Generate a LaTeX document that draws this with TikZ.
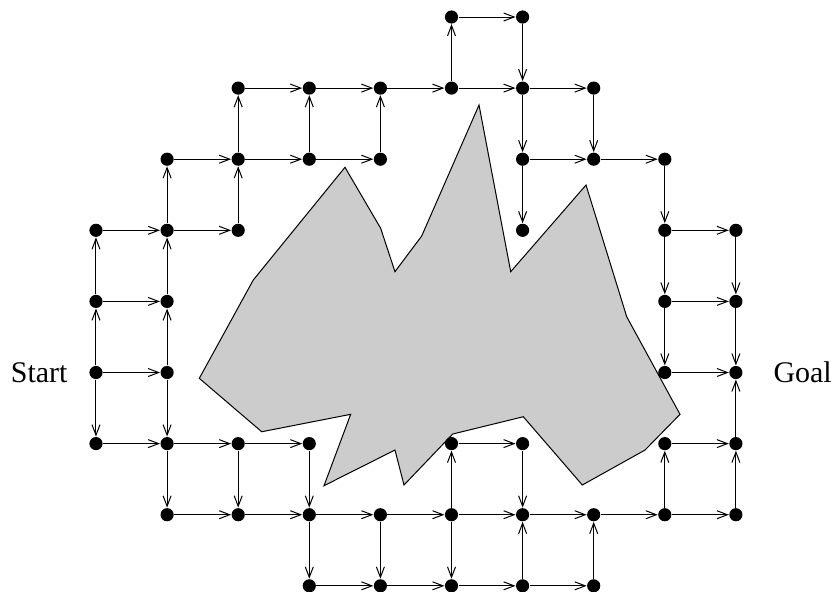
\documentclass[tikz,border=0pt]{standalone}
\usepackage{fontspec}
\setmainfont{Liberation Serif}
\usepackage{tikz}
\usetikzlibrary{arrows.meta, positioning}

\begin{document}
\begin{tikzpicture}[
  dot/.style={circle, fill=black, inner sep=0pt, minimum size=0.185cm},
  arr/.style={-{Straight Barb[length=4.2pt, width=3.2pt]}, line width=0.4pt},
  obstacle/.style={draw=black, fill=black!20, line width=0.4pt},
  lbl/.style={inner sep=0pt, font=\fontsize{12}{14}\selectfont}
]
\useasboundingbox (-1.350,0.239) rectangle (10.422,-8.073);
% obstacle
\draw[obstacle] (1.453,-5.082) -- (2.212,-3.699) -- (3.502,-2.114) -- (4.004,-2.972)
  -- (4.205,-3.582) -- (4.581,-3.080) -- (5.387,-1.238) -- (5.833,-3.582)
  -- (6.892,-2.363) -- (7.464,-4.215) -- (8.214,-5.588) -- (7.722,-6.090)
  -- (6.840,-6.582) -- (6.010,-5.622) -- (5.017,-5.865) -- (4.332,-6.582)
  -- (4.205,-6.090) -- (3.207,-6.592) -- (3.582,-5.588) -- (2.331,-5.833) -- cycle;
% grid points
\foreach \c/\r in {5/0,6/0,
    2/1,3/1,4/1,5/1,6/1,7/1,
    1/2,2/2,3/2,4/2,6/2,7/2,8/2,
    0/3,1/3,2/3,6/3,8/3,9/3,
    0/4,1/4,8/4,9/4,
    0/5,1/5,8/5,9/5,
    0/6,1/6,2/6,3/6,5/6,6/6,8/6,9/6,
    1/7,2/7,3/7,4/7,5/7,6/7,7/7,8/7,9/7,
    3/8,4/8,5/8,6/8,7/8}
  \node[dot] (n\c\r) at (\c,-\r) {};
% horizontal moves
\foreach \a/\b in {n50/n60,
    n21/n31,n31/n41,n41/n51,n51/n61,n61/n71,
    n12/n22,n22/n32,n32/n42,n62/n72,n72/n82,
    n03/n13,n13/n23,n83/n93,
    n04/n14,n84/n94,
    n05/n15,n85/n95,
    n06/n16,n16/n26,n26/n36,n56/n66,n86/n96,
    n17/n27,n27/n37,n37/n47,n47/n57,n57/n67,n67/n77,n77/n87,n87/n97,
    n38/n48,n48/n58,n58/n68,n68/n78}
  \draw[arr] (\a) -- (\b);
% vertical moves
\foreach \a/\b in {n05/n04,n04/n03,n05/n06,
    n15/n14,n14/n13,n13/n12,n15/n16,n16/n17,
    n23/n22,n22/n21,n26/n27,
    n32/n31,n36/n37,n37/n38,
    n42/n41,n47/n48,
    n51/n50,n57/n56,n57/n58,
    n60/n61,n61/n62,n62/n63,n66/n67,n68/n67,
    n71/n72,n78/n77,
    n82/n83,n83/n84,n84/n85,n87/n86,
    n93/n94,n94/n95,n96/n95,n97/n96}
  \draw[arr] (\a) -- (\b);
% labels
\node[lbl, anchor=east] (start) at (-0.394,-5) {Start};
\node[lbl, anchor=west] (goal) at (9.522,-5) {Goal};
\end{tikzpicture}
\end{document}
